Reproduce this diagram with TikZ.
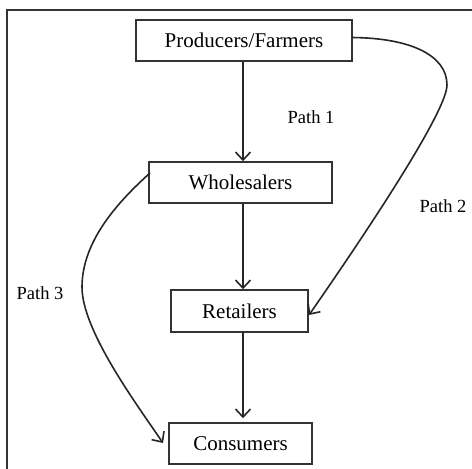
\documentclass[tikz,border=0pt]{standalone}
\usepackage{fontspec}
\setmainfont{Liberation Serif}
\usetikzlibrary{arrows.meta}
\tikzset{cbox/.style={draw=black!80,line width=1.6pt,inner sep=0pt,font=\fontsize{21}{25}\selectfont}}
\tikzset{plabel/.style={inner sep=0pt,font=\fontsize{18.5}{22}\selectfont}}
\tikzset{flow/.style={draw=black!85,line width=1.6pt,-{Straight Barb[length=8pt,width=15pt]}}}
\tikzset{frame/.style={draw=black!80,line width=2pt}}

\begin{document}
\begin{tikzpicture}[x=1pt,y=-1pt]
    \useasboundingbox (0,0) rectangle (472,469);
    \draw[frame] (6.5,469) -- (6.5,9.5) -- (472,9.5);

    \node[cbox,minimum width=216pt,minimum height=41pt] (prod) at (244,40.5) {Producers/Farmers};
    \node[cbox,minimum width=183pt,minimum height=41pt] (whole) at (240.5,182.5) {Wholesalers};
    \node[cbox,minimum width=137pt,minimum height=42pt] (retail) at (239.5,311) {Retailers};
    \node[cbox,minimum width=143pt,minimum height=41pt] (cons) at (240.5,443.5) {Consumers};
    \coordinate (axis) at (243,0);

    % path 1
    \draw[flow] (prod.south -| axis) -- (whole.north -| axis);
    \draw[flow] (whole.south -| axis) -- (retail.north -| axis);
    \draw[flow] (retail.south -| axis) -- ([yshift=4pt]cons.north -| axis);

    % path 2
    \coordinate (p2a) at (352,37.5);
    \coordinate (p2b) at (309,315);
    \draw[flow] (p2a) .. controls (410,38) and (447,55) .. (447,85)
        .. controls (447,115) and (343,266) .. (p2b);

    % path 3
    \coordinate (p3a) at (150,173);
    \coordinate (p3b) at (163,443);
    \draw[flow] (p3a) .. controls (120,200) and (82,240) .. (82,287)
        .. controls (82,330) and (135,402) .. (p3b);

    \node[plabel] (l1) at (311,117) {Path 1};
    \node[plabel] (l2) at (443,206) {Path 2};
    \node[plabel] (l3) at (40,293) {Path 3};
\end{tikzpicture}
\end{document}
